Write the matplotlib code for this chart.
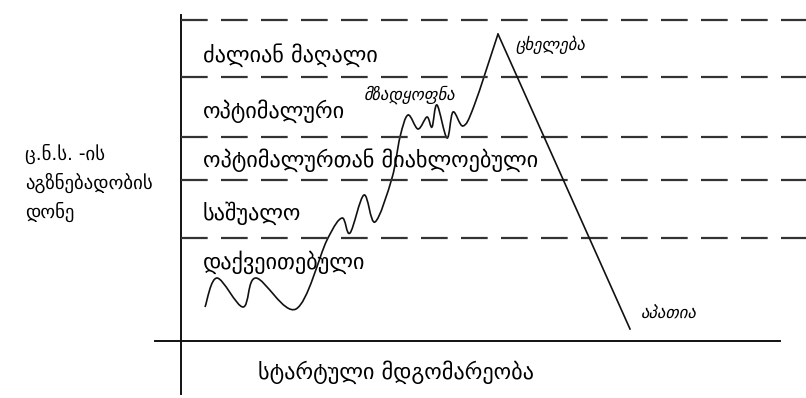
import numpy as np
import matplotlib.pyplot as plt
from matplotlib.path import Path
from matplotlib.patches import PathPatch

plt.rcParams['font.family'] = ['DejaVu Sans']

# picture is drawn in pixel-like units: x to the right, y downward
level_lines = [20, 77, 137, 180, 238]
level_names = ['ძალიან მაღალი', 'ოპტიმალური', 'ოპტიმალურთან მიახლოებული',
               'საშუალო', 'დაქვეითებული']
level_label_y = [55, 111, 160, 213, 262]

# excitability curve (smooth part)
curve_x = [205, 217, 243, 256, 296, 327, 342, 350, 364, 375, 392, 400,
           408, 418, 427, 432, 437, 447, 453, 463, 474, 498]
curve_y = [307, 278, 307, 278, 309, 240, 218, 233, 195, 222, 178, 137,
           115, 129, 117, 127, 105, 138, 112, 126, 106, 34]
# straight fall after the peak
fall_x = [498, 630]
fall_y = [34, 329]

notes = ['მზადყოფნა', 'ცხელება', 'აპათია']
notes_x = [363, 515, 640]
notes_y = [95, 45, 314]

ylabel_lines = ['ც.ნ.ს. -ის', 'აგზნებადობის', 'დონე']
xlabel = 'სტარტული მდგომარეობა'


def smooth_path(xs, ys):
    pts = np.column_stack([xs, ys]).astype(float)
    n = len(pts)
    verts = [pts[0]]
    codes = [Path.MOVETO]
    for i in range(n - 1):
        p0 = pts[i - 1] if i > 0 else pts[i]
        p1 = pts[i]
        p2 = pts[i + 1]
        p3 = pts[i + 2] if i + 2 < n else pts[i + 1]
        verts += [p1 + (p2 - p0) / 6, p2 - (p3 - p1) / 6, p2]
        codes += [Path.CURVE4] * 3
    return Path(verts, codes)


fig = plt.figure(figsize=(8.06, 3.98), dpi=100)
ax = fig.add_axes([0, 0, 1, 1])
ax.set_xlim(0, 806)
ax.set_ylim(398, 0)
ax.axis('off')

# axes
ax.plot([181, 181], [15, 394], color='#111', lw=1.4)
ax.plot([155, 780], [341, 341], color='#111', lw=1.4)

for y in level_lines:
    ax.plot([181, 806], [y, y], color='#333', lw=1.6, dashes=(12, 6))

ax.add_patch(PathPatch(smooth_path(curve_x, curve_y), fill=False,
                       edgecolor='#111', lw=1.2))
ax.plot(fall_x, fall_y, color='#111', lw=1.2)

for name, y in zip(level_names, level_label_y):
    ax.text(203, y, name, fontsize=16, va='center', ha='left')

for t, x, y in zip(notes, notes_x, notes_y):
    ax.text(x, y, t, fontsize=12, style='italic', va='center', ha='left')

for i, t in enumerate(ylabel_lines):
    ax.text(25, 154 + i * 29, t, fontsize=13.5, va='center', ha='left')

ax.text(258, 372, xlabel, fontsize=16, va='center', ha='left')

fig.savefig('out.png', dpi=100)
